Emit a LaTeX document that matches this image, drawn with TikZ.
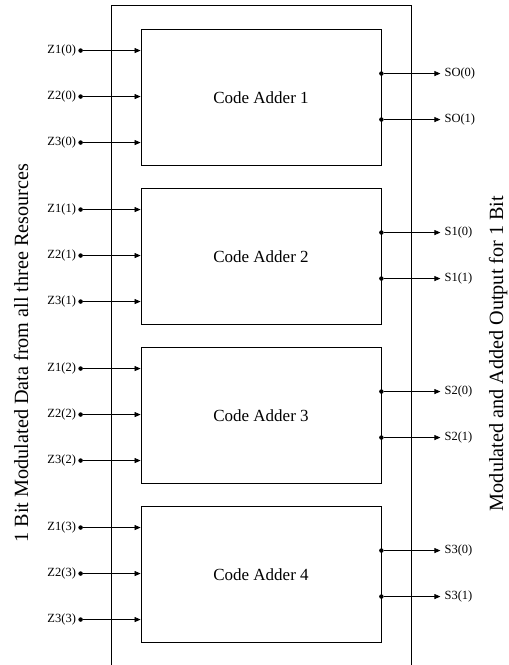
\documentclass[tikz,border=0pt]{standalone}
\usepackage{fontspec}
\setmainfont{Liberation Serif}
\usetikzlibrary{arrows.meta,positioning,calc}

\tikzset{
  adder/.style={draw, line width=0.8pt, minimum width=240pt, minimum height=136.5pt, inner sep=0pt, font=\fontsize{17}{20}\selectfont},
  pin/.style={circle, fill, inner sep=0pt, minimum size=4.5pt},
  sig/.style={-{Triangle[length=6pt,width=5pt]}, line width=0.7pt},
  sigtext/.style={font=\fontsize{12.5}{15}\selectfont, inner sep=0pt},
  sidetext/.style={rotate=90, anchor=base, font=\fontsize{20.2}{24}\selectfont, inner sep=0pt},
}

\begin{document}
\begin{tikzpicture}[x=1pt,y=-1pt]
  \useasboundingbox (0,0) rectangle (509,665);
  % open frame round the four adders
  \draw[line width=0.8pt] (111,665) -- (111,5.5) -- (411,5.5) -- (411,665);
  \foreach \i in {1,...,4} {
    \pgfmathtruncatemacro{\j}{\i-1}
    \node[adder] (adder\i) at (261,{97.2+159*(\i-1)}) {Code Adder \i};
    % three inputs
    \foreach \k in {1,2,3} {
      \coordinate (in\i\k) at ($(adder\i.north west)+(0,{22+46*(\k-1)})$);
      \node[pin] (z\i\k) at ($(in\i\k)+(-60,0)$) {};
      \node[sigtext, left=2pt of z\i\k] {Z\k(\j)};
      \draw[sig] (z\i\k) -- (in\i\k);
    }
    % two outputs
    \foreach \k in {0,1} {
      \node[pin] (s\i\k) at ($(adder\i.north east)+(0,{45+46*\k})$) {};
      \coordinate (out\i\k) at ($(s\i\k)+(59,0)$);
      \draw[sig] (s\i\k) -- (out\i\k);
      \ifnum\i=1
        \node[sigtext, right=4pt of out\i\k] {SO(\k)};
      \else
        \node[sigtext, right=4pt of out\i\k] {S\j(\k)};
      \fi
    }
  }
  \node[sidetext] (intitle) at (28,353) {1 Bit Modulated Data from all three Resources};
  \node[sidetext] (outtitle) at (503,353.5) {Modulated and Added Output for 1 Bit};
\end{tikzpicture}
\end{document}
